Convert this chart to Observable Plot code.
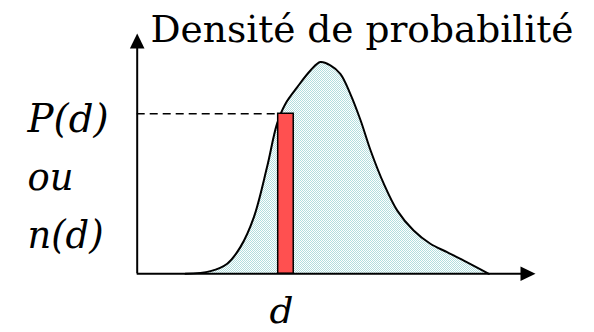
<!DOCTYPE html>
<html>
<head>
<meta charset="utf-8">
<script src="https://cdn.jsdelivr.net/npm/d3@7"></script>
<script src="https://cdn.jsdelivr.net/npm/@observablehq/plot@0.6"></script>
<style>
  html, body { margin: 0; padding: 0; background: #fff; }
</style>
</head>
<body>
<div id="chart"></div>
<script>
// Density curve (arbitrary units, axis runs 0..100 on both directions)
const curveX = [12.1, 18.4, 22.6, 25.9, 29.3, 32.6, 35.1, 37.2, 40.2, 43.5, 46.0, 48.5, 51.0, 53.5, 56.1, 58.6, 61.9, 65.3, 69.4, 73.6, 77.8, 82.0, 88.3];
const curveY = [0, 1.1, 4.2, 11.1, 23.6, 44.4, 62.4, 70.7, 77.7, 84.6, 88.1, 86.7, 83.2, 74.9, 63.8, 51.3, 37.5, 26.3, 18.0, 12.5, 9.0, 5.5, 0];
// Highlighted class d
const barD = 37.35;
const barWidth = 3.9;
const pdValue = 66.6;
// Axis extent
const axisMax = 100;
// Texts
const titleText = "Densité de probabilité";
const leftLabels = ["P(d)", "ou", "n(d)"];
const xLabel = "d";

const curve = curveX.map((x, i) => ({x, y: curveY[i]}));
const bar = [{x1: barD - barWidth / 2, x2: barD + barWidth / 2, y: pdValue}];

const W = 594, H = 332;
const serif = "DejaVu Serif";
const labelStep = 24.1; // vertical step between the stacked left labels (in y units)

const arrowHead = {
  draw(ctx) {
    ctx.moveTo(0, 0);
    ctx.lineTo(7.3, 15);
    ctx.lineTo(-7.3, 15);
    ctx.closePath();
  }
};

const plot = Plot.plot({
  width: W,
  height: H,
  margin: 0,
  x: {domain: [0, axisMax], range: [136.7, 535], axis: null},
  y: {domain: [0, axisMax], range: [273.3, 33], axis: null},
  marks: [
    Plot.areaY(curve, {x: "x", y: "y", fill: "url(#dotfill)", curve: "catmull-rom"}),
    Plot.ruleY(bar, {y: "y", x1: 0, x2: "x2", stroke: "black", strokeWidth: 1.5, strokeDasharray: "8,5"}),
    Plot.line(curve, {x: "x", y: "y", stroke: "black", strokeWidth: 2, curve: "catmull-rom"}),
    Plot.rect(bar, {x1: "x1", x2: "x2", y1: 0, y2: "y", fill: "#ff5050", stroke: "black", strokeWidth: 1.5}),
    Plot.ruleX([0], {y1: 0, y2: axisMax - 5, stroke: "black", strokeWidth: 2}),
    Plot.ruleY([0], {x1: 0, x2: axisMax - 3, stroke: "black", strokeWidth: 2}),
    Plot.dot([{x: 0, y: axisMax}], {x: "x", y: "y", symbol: arrowHead, fill: "black", stroke: "none", r: 5}),
    Plot.dot([{x: axisMax, y: 0}], {x: "x", y: "y", symbol: arrowHead, rotate: 90, fill: "black", stroke: "none", r: 5}),
    Plot.text([titleText], {x: 0, y: axisMax, text: d => d, textAnchor: "start", lineAnchor: "bottom", dx: 13.3, dy: 8, fontSize: 37, fontFamily: serif, fill: "black"}),
    Plot.text(leftLabels, {x: 0, y: (d, i) => pdValue - i * labelStep, text: d => d, textAnchor: "start", lineAnchor: "bottom", dx: -109.7, dy: 18.4, fontSize: 39, fontFamily: serif, fontStyle: "italic", fill: "black"}),
    Plot.text([xLabel], {x: barD, y: 0, text: d => d, textAnchor: "middle", lineAnchor: "bottom", dx: -4.5, dy: 49, fontSize: 36, fontFamily: serif, fontStyle: "italic", fill: "black"})
  ]
});

// Squeeze the serif texts to the reference widths (Times-like proportions)
const targetWidths = {"Densité de probabilité": 423, "P(d)": 81, "ou": 46, "n(d)": 76, "d": 24};
plot.querySelectorAll("text").forEach(t => {
  const w = targetWidths[t.textContent];
  if (w) {
    t.setAttribute("textLength", w);
    t.setAttribute("lengthAdjust", "spacingAndGlyphs");
  }
});

// dotted light-cyan fill pattern
const ns = "http://www.w3.org/2000/svg";
const defs = document.createElementNS(ns, "defs");
const pat = document.createElementNS(ns, "pattern");
pat.setAttribute("id", "dotfill");
pat.setAttribute("width", "2");
pat.setAttribute("height", "2");
pat.setAttribute("patternUnits", "userSpaceOnUse");
[[0, 0, 2, 2, "#ffffff"], [0, 0, 1, 1, "#b3dede"], [1, 1, 1, 1, "#b3dede"]].forEach(([x, y, w, h, c]) => {
  const r = document.createElementNS(ns, "rect");
  r.setAttribute("x", x); r.setAttribute("y", y);
  r.setAttribute("width", w); r.setAttribute("height", h);
  r.setAttribute("fill", c);
  pat.appendChild(r);
});
defs.appendChild(pat);
plot.insertBefore(defs, plot.firstChild);

document.getElementById("chart").appendChild(plot);
</script>
</body>
</html>
